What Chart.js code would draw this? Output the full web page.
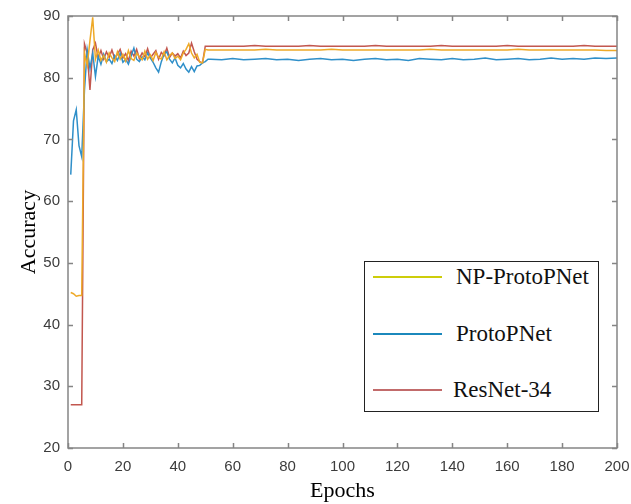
<!DOCTYPE html>
<html>
<head>
<meta charset="utf-8">
<script src="https://cdn.jsdelivr.net/npm/chart.js@4.4.1/dist/chart.umd.min.js"></script>
<style>
  html, body { margin: 0; padding: 0; background: #fff; }
  #wrap { position: relative; width: 631px; height: 504px; }
  #legend {
    position: absolute; left: 364px; top: 261px; width: 235px; height: 151px;
    border: 1px solid #222; background: #fff; box-sizing: border-box;
    font-family: "Liberation Serif", "DejaVu Serif", serif; font-size: 23px; color: #111;
  }
  #legend .item { position: absolute; left: 0; height: 30px; width: 100%; }
  #legend .swatch { position: absolute; left: 8px; top: 14px; width: 69px; height: 2px; }
  #legend .label { position: absolute; top: 0; line-height: 30px; white-space: nowrap; }
</style>
</head>
<body>
<div id="wrap">
  <canvas id="accChart" width="631" height="504"></canvas>
  <div id="legend"></div>
</div>
<script>
// ==================== Data ====================

const epochs = [
    1, 2, 3, 4, 5, 6, 7, 8, 9, 10, 11, 12, 13, 14, 15, 16, 17, 18, 19, 20,
    21, 22, 23, 24, 25, 26, 27, 28, 29, 30, 31, 32, 33, 34, 35, 36, 37, 38, 39, 40,
    41, 42, 43, 44, 45, 46, 47, 48, 49, 50, 51, 52,
    56, 60, 64, 68, 72, 76, 80, 84, 88, 92, 96, 100, 104, 108, 112, 116, 120, 124,
    128, 132, 136, 140, 144, 148, 152, 156, 160, 164, 168, 172, 176, 180, 184, 188,
    192, 196, 200
];

const npProtoPNet = [
    45.2, 45.0, 44.6, 44.7, 44.7, 84.0, 82.0, 86.0, 89.8, 83.0, 84.5, 82.8, 83.6, 82.5, 84.0, 83.2, 82.6, 84.2, 83.0, 83.8,
    82.7, 84.4, 83.1, 82.8, 84.0, 83.4, 82.9, 84.3, 83.0, 83.7, 82.8, 84.1, 83.3, 83.0, 84.2, 82.9, 83.6, 84.0, 83.1, 83.5,
    82.9, 84.0, 84.6, 85.5, 84.0, 83.2, 83.8, 82.5, 82.4, 84.6, 84.5, 84.5,
    84.5, 84.5, 84.5, 84.5, 84.6, 84.5, 84.5, 84.5, 84.5, 84.5, 84.6, 84.5, 84.5, 84.5, 84.5, 84.5, 84.5, 84.5,
    84.5, 84.6, 84.5, 84.5, 84.5, 84.5, 84.5, 84.5, 84.5, 84.6, 84.5, 84.5, 84.5, 84.5, 84.5, 84.5,
    84.5, 84.4, 84.4
];

const protoPNet = [
    64.3, 73.0, 74.8, 69.0, 67.2, 78.0, 84.5, 81.5, 84.0, 80.2, 83.5, 82.2, 83.8, 82.6, 83.0, 82.3, 83.6, 82.8, 84.0, 82.5,
    83.0, 82.2, 83.5, 84.8, 83.0, 82.6, 83.4, 82.9, 84.0, 83.2, 82.5, 81.6, 80.9, 82.6, 83.8, 84.2, 83.0, 82.4, 83.2, 82.0,
    81.6, 82.3, 81.4, 80.9, 81.8, 81.0, 81.9, 82.0, 82.4, 82.6, 83.0, 83.0,
    82.9, 83.1, 82.9, 83.0, 83.1, 82.9, 83.0, 82.8, 83.0, 83.1, 82.9, 83.0, 82.8, 83.0, 83.1, 82.9, 83.0, 82.8,
    83.1, 83.0, 82.9, 83.1, 82.9, 83.0, 83.2, 82.9, 83.0, 83.1, 82.9, 83.0, 83.2, 83.0, 83.1, 83.0,
    83.2, 83.1, 83.2
];

const resNet34 = [
    27.0, 27.0, 27.0, 27.0, 27.0, 85.5, 84.0, 78.0, 84.5, 85.6, 83.2, 84.4, 83.0, 84.2, 83.3, 84.5, 83.1, 83.8, 84.6, 83.2,
    83.9, 82.8, 84.3, 83.5, 84.6, 83.1, 84.0, 83.4, 84.7, 83.2, 83.8, 84.4, 83.0, 84.1, 83.6, 84.8, 83.3, 84.0, 83.5, 83.9,
    83.2, 84.3, 83.6, 84.0, 85.6, 84.2, 83.0, 82.6, 82.4, 85.1, 85.1, 85.1,
    85.1, 85.1, 85.1, 85.2, 85.1, 85.1, 85.1, 85.1, 85.2, 85.1, 85.1, 85.1, 85.1, 85.1, 85.2, 85.1, 85.1, 85.1,
    85.1, 85.1, 85.2, 85.1, 85.1, 85.1, 85.1, 85.1, 85.2, 85.1, 85.1, 85.1, 85.1, 85.1, 85.1, 85.2,
    85.1, 85.1, 85.1
];

const seriesNames = ['NP-ProtoPNet', 'ProtoPNet', 'ResNet-34'];
const lineColors = ['#EEA928', '#2F8FC9', '#C2574F'];
const legendColors = ['#CDCD0A', '#1B88BC', '#C26B6B'];

// ==================== Helpers ====================

const toPoints = values => values.map((v, i) => ({ x: epochs[i], y: v }));

/**
 * Box frame with MATLAB-style inward ticks on all four sides
 */
const frameTicks = {
    id: 'frameTicks',
    afterDatasetsDraw(chart) {
        const { ctx, chartArea: a, scales: { x, y } } = chart;
        ctx.save();
        ctx.strokeStyle = '#858585';
        ctx.lineWidth = 1.5;
        ctx.strokeRect(a.left, a.top, a.right - a.left, a.bottom - a.top);
        ctx.beginPath();
        x.ticks.forEach(t => {
            const px = Math.round(x.getPixelForValue(t.value)) + 0.5;
            ctx.moveTo(px, a.bottom); ctx.lineTo(px, a.bottom - 5);
            ctx.moveTo(px, a.top); ctx.lineTo(px, a.top + 5);
        });
        y.ticks.forEach(t => {
            const py = Math.round(y.getPixelForValue(t.value)) + 0.5;
            ctx.moveTo(a.left, py); ctx.lineTo(a.left + 5, py);
            ctx.moveTo(a.right, py); ctx.lineTo(a.right - 5, py);
        });
        ctx.stroke();
        ctx.restore();
    }
};

const tickFont = { family: '"Liberation Sans", Arial, sans-serif', size: 15 };
const titleFont = { family: '"Liberation Serif", "Times New Roman", serif', size: 22 };

// ==================== Chart ====================

const chart = new Chart(document.getElementById('accChart'), {
    type: 'line',
    data: {
        datasets: [npProtoPNet, protoPNet, resNet34].map((vals, i) => ({
            label: seriesNames[i],
            data: toPoints(vals),
            borderColor: lineColors[i],
            backgroundColor: lineColors[i],
            borderWidth: 1.5,
            pointRadius: 0,
            tension: 0,
            fill: false
        }))
    },
    options: {
        responsive: false,
        animation: false,
        layout: { padding: { top: 16, right: 14, left: 0, bottom: 0 } },
        plugins: {
            legend: { display: false },
            tooltip: { enabled: false }
        },
        scales: {
            x: {
                type: 'linear',
                min: 0,
                max: 200,
                afterFit: s => { s.height = 56; s.paddingLeft = 0; s.paddingRight = 0; },
                ticks: { stepSize: 20, color: '#3c3c3c', font: tickFont, padding: 10 },
                grid: { drawOnChartArea: false, drawTicks: false },
                border: { display: false },
                title: { display: true, text: 'Epochs', color: '#000', font: titleFont, padding: { top: 0, bottom: 0 } }
            },
            y: {
                min: 20,
                max: 90,
                afterFit: s => { s.width = 68; s.paddingTop = 0; s.paddingBottom = 0; },
                ticks: { stepSize: 10, color: '#3c3c3c', font: tickFont, padding: 8 },
                grid: { drawOnChartArea: false, drawTicks: false },
                border: { display: false },
                title: { display: true, text: 'Accuracy', color: '#000', font: titleFont, padding: { top: 16, bottom: 0 } }
            }
        }
    },
    plugins: [frameTicks]
});

// ==================== HTML legend ====================

const legendBox = document.getElementById('legend');
const rowTops = [0, 57, 113];
const labelLefts = [91, 91, 88];
seriesNames.forEach((name, i) => {
    const item = document.createElement('div');
    item.className = 'item';
    item.style.top = rowTops[i] + 'px';
    item.innerHTML = '<div class="swatch" style="background:' + legendColors[i] + '"></div>' +
        '<span class="label" style="left:' + labelLefts[i] + 'px">' + name + '</span>';
    legendBox.appendChild(item);
});
</script>
</body>
</html>
